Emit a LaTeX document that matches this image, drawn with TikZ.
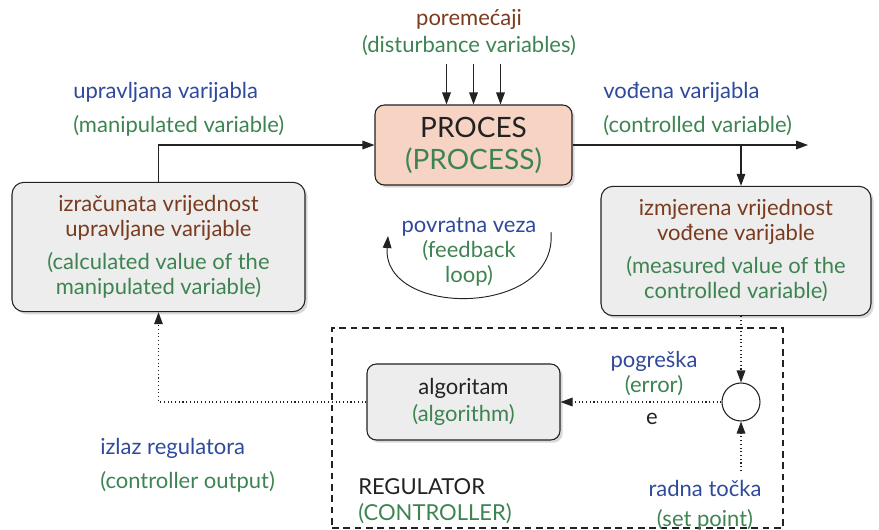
\documentclass[tikz,border=0pt]{standalone}
\usepackage{fontspec}
\setmainfont{Lato}
\usetikzlibrary{positioning,arrows.meta,shadows}
\definecolor{brn}{HTML}{7A3B1F}
\definecolor{grn}{HTML}{3E8452}
\definecolor{blu}{HTML}{2F4A9C}
\definecolor{ink}{HTML}{222222}
\definecolor{procfill}{HTML}{F6D3C3}
\definecolor{boxfill}{HTML}{EDEDED}
\tikzstyle{shad}=[drop shadow={shadow xshift=2pt, shadow yshift=-2pt, opacity=0.25, fill=black!60}]
\tikzstyle{procbox}=[rectangle, rounded corners=7pt, draw=ink, fill=procfill, thick, shad, minimum width=147.75pt, minimum height=60pt, align=center, font=\fontsize{21}{24}\selectfont, text=ink]
\tikzstyle{valbox}=[rectangle, rounded corners=9pt, draw=ink, fill=boxfill, thick, shad, minimum height=97pt, align=center, font=\fontsize{16.5}{18.75}\selectfont]
\tikzstyle{algbox}=[rectangle, rounded corners=7pt, draw=ink, fill=boxfill, thick, shad, minimum width=144.75pt, minimum height=57pt, align=center, font=\fontsize{16.5}{18.75}\selectfont, text=ink]
\tikzstyle{sumnode}=[circle, draw=ink, fill=white, thick, minimum size=28.5pt, inner sep=0pt]
\tikzstyle{regbox}=[rectangle, draw=ink, thick, dash pattern=on 5pt off 3.5pt, minimum width=338.25pt, minimum height=150pt]
\tikzstyle{lbl}=[inner sep=0pt, align=center, font=\fontsize{16.5}{18.75}\selectfont]
\tikzstyle{arr}=[-{Triangle[length=9pt,width=6.5pt]}, thick, ink]
\tikzstyle{darr}=[-{Triangle[length=9pt,width=6.5pt]}, thick, ink, dotted]

\begin{document}
\begin{tikzpicture}[x=0.75pt, y=-0.75pt]
    \useasboundingbox (0,0) rectangle (879,529);

    \node (proc) [procbox] at (473.5,145) {PROCES\\[0pt]\color{grn}(PROCESS)};
    \node (lbox) [valbox, minimum width=219.75pt] at (158.5,247)
        {\color{brn}izračunata vrijednost\\\color{brn}upravljane varijable\\[6pt]\color{grn}(calculated value of the\\\color{grn}manipulated variable)};
    \node (rbox) [valbox, minimum width=202.5pt] at (736,251)
        {\color{brn}izmjerena vrijednost\\\color{brn}vođene varijable\\[6pt]\color{grn}(measured value of the\\\color{grn}controlled variable)};

% REGULATOR
    \node (reg) [regbox] at (557.5,428) {};
    \node (alg) [algbox] at (463.5,402) {algoritam\\[2pt]\color{grn}(algorithm)};
    \node (sum) [sumnode] at (741,402) {};
%%%% end REGULATOR

 %% LABELS ..
    \node (dist) [lbl] at (469,33) {\color{brn}poremećaji\\[1.5pt]\color{grn}(disturbance variables)};
    \node (mv) [lbl, anchor=west, align=left] at (73,109) {\color{blu}upravljana varijabla\\[6.75pt]\color{grn}(manipulated variable)};
    \node (cv) [lbl, anchor=west, align=left] at (603,109) {\color{blu}vođena varijabla\\[6.75pt]\color{grn}(controlled variable)};
    \node (fb) [lbl] at (469,252) {\color{blu}povratna veza\\\color{grn}(feedback\\\color{grn}loop)};
    \node (err) [lbl] at (654,374) {\color{blu}pogreška\\\color{grn}(error)};
    \node (e) [lbl, text=ink] at (652,419) {e};
    \node (spl) [lbl] at (705,505) {\color{blu}radna točka\\[3.75pt]\color{grn}(set point)};
    \node (out) [lbl, anchor=west, align=left] at (100,465) {\color{blu}izlaz regulatora\\[6.75pt]\color{grn}(controller output)};
    \node (regl) [lbl, anchor=west, align=left] at (358,501) {\color{ink}REGULATOR\\[0.75pt]\color{grn}(CONTROLLER)};

    \coordinate (br) at (741,145);
    \coordinate (cvend) at (808,145);
    \coordinate (sp) at (741,471);
    \coordinate (fbs) at (551,232);
    \coordinate (fbe) at (388,236);

   \foreach \dx in {-27,0,27}
       \draw[arr] (proc.north) ++(\dx,-40) -- ++(0,40);

   \draw[arr] (lbox.north) |- (proc.west);
   \draw[arr] (proc.east) -- (cvend);
   \draw[arr] (br) -- (br |- rbox.north);

%feedback loop arc
   \draw[arr, line width=0.7pt] (fbs) .. controls (558,318) and (382,318) .. (fbe);

%dotted signal lines
   \draw[darr] (br |- rbox.south) -- (sum.north);
   \draw[darr] (sp) -- (sum.south);
   \draw[darr] (sum.west) -- (alg.east);
   \draw[darr] (alg.west) -| (lbox.south);

\end{tikzpicture}
\end{document}
